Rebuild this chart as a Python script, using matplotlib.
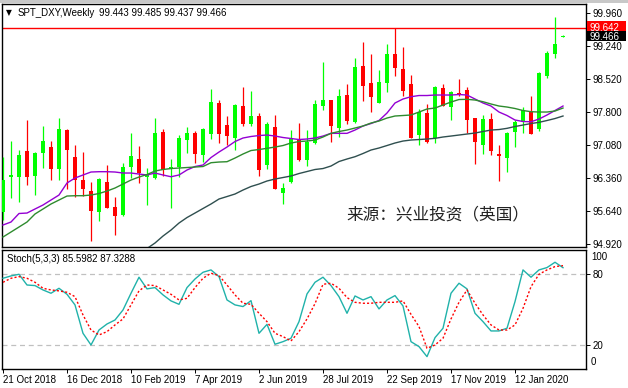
import matplotlib
matplotlib.use("Agg")
import matplotlib.pyplot as plt
import matplotlib.transforms as mtransforms
from matplotlib.patches import Rectangle
import numpy as np

# ---------------- data (weekly DXY candles, 21 Oct 2018 .. 23 Feb 2020) ----------------
tick_idx = [0, 8, 16, 24, 32, 40, 48, 56, 64]
tick_labels = ["21 Oct 2018", "16 Dec 2018", "10 Feb 2019", "7 Apr 2019", "2 Jun 2019",
               "28 Jul 2019", "22 Sep 2019", "17 Nov 2019", "12 Jan 2020"]
price_ticks = [94.920, 95.640, 96.360, 97.080, 97.800, 98.520, 99.240, 99.960]

opens = [95.632, 96.395, 96.395, 96.955, 96.417, 96.919, 97.050, 96.563, 97.414, 96.832,
         96.323, 96.083, 95.617, 96.286, 95.741, 95.559, 96.606, 96.781, 96.395, 96.374,
         97.377, 96.563, 96.606, 97.195, 97.355, 96.868, 97.334, 97.995, 97.523, 97.246,
         97.937, 97.552, 97.719, 96.650, 97.479, 96.046, 96.286, 97.210, 96.759, 97.123,
         97.945, 98.068, 97.465, 98.177, 97.581, 98.810, 98.432, 98.010, 98.446, 99.072,
         98.745, 98.417, 97.305, 97.792, 97.232, 98.323, 97.923, 98.221, 98.286, 97.668,
         97.086, 97.654, 96.883, 96.810, 97.377, 97.595, 97.799, 97.435, 98.592, 99.072,
         99.443]
highs = [96.832, 97.174, 96.977, 97.632, 96.941, 97.508, 97.181, 97.683, 97.435, 97.086,
         96.941, 96.286, 96.374, 96.650, 95.959, 96.686, 97.355, 97.065, 96.592, 97.668,
         97.435, 96.781, 97.304, 97.486, 97.392, 97.465, 98.308, 98.068, 97.719, 97.981,
         98.359, 98.265, 97.777, 97.581, 97.741, 96.250, 97.414, 97.574, 97.414, 98.068,
         98.905, 98.068, 98.308, 98.417, 98.992, 99.341, 99.072, 98.723, 99.290, 99.642,
         99.217, 98.614, 97.872, 97.981, 98.381, 98.417, 98.265, 98.526, 98.359, 97.683,
         97.741, 97.777, 97.086, 97.363, 97.632, 97.915, 98.163, 98.686, 99.137, 99.872,
         99.485]
lows = [95.450, 95.937, 95.835, 96.214, 95.995, 96.577, 96.323, 96.323, 96.126, 95.959,
        95.981, 94.992, 95.428, 95.719, 95.123, 95.544, 96.359, 96.250, 95.777, 96.344,
        96.417, 95.704, 96.395, 96.905, 96.686, 96.723, 97.217, 97.123, 97.086, 96.977,
        97.508, 97.508, 96.417, 96.555, 96.119, 95.799, 96.250, 96.737, 96.628, 97.101,
        97.850, 97.159, 97.268, 97.544, 97.559, 98.054, 97.814, 98.010, 98.250, 98.599,
        98.163, 97.232, 97.086, 97.123, 97.123, 97.937, 97.632, 98.163, 97.341, 96.672,
        96.890, 96.868, 96.301, 96.504, 97.050, 97.355, 97.326, 97.392, 98.555, 98.992,
        99.437]
closes = [96.323, 96.432, 96.868, 96.395, 96.919, 97.174, 96.563, 97.435, 96.977, 96.323,
          96.126, 95.646, 96.344, 95.719, 95.544, 96.606, 96.846, 96.468, 96.446, 97.355,
          96.541, 96.606, 97.232, 97.355, 96.890, 97.435, 98.017, 97.334, 97.290, 97.959,
          97.537, 97.719, 96.541, 97.544, 96.126, 96.141, 97.232, 96.759, 97.145, 97.981,
          98.068, 97.508, 98.155, 97.617, 98.788, 98.381, 98.141, 98.454, 99.072, 98.759,
          98.272, 97.232, 97.799, 97.145, 98.359, 97.937, 98.235, 98.177, 97.632, 97.159,
          97.654, 96.955, 96.854, 97.341, 97.581, 97.843, 97.326, 98.650, 99.086, 99.290,
          99.466]

ma_fast = [95.341, 95.406, 95.592, 95.602, 95.690, 95.777, 95.886, 95.995, 96.257, 96.366,
           96.432, 96.497, 96.504, 96.504, 96.497, 96.475, 96.475, 96.453, 96.432, 96.475,
           96.432, 96.394, 96.432, 96.541, 96.617, 96.650, 96.813, 96.933, 97.042, 97.162,
           97.239, 97.272, 97.293, 97.304, 97.282, 97.250, 97.228, 97.206, 97.217, 97.239,
           97.282, 97.341, 97.341, 97.341, 97.413, 97.501, 97.555, 97.621, 97.784, 98.003,
           98.090, 98.140, 98.166, 98.166, 98.177, 98.177, 98.177, 98.188, 98.177, 98.090,
           98.003, 97.937, 97.806, 97.730, 97.632, 97.599, 97.594, 97.653, 97.741, 97.839,
           97.937]
ma_mid = [95.079, 95.188, 95.297, 95.406, 95.581, 95.690, 95.799, 95.886, 95.973, 95.980,
          95.980, 95.995, 96.028, 96.082, 96.148, 96.235, 96.322, 96.388, 96.442, 96.519,
          96.552, 96.573, 96.584, 96.595, 96.606, 96.617, 96.700, 96.715, 96.722, 96.802,
          96.890, 96.966, 96.988, 97.014, 97.042, 97.075, 97.130, 97.162, 97.173, 97.195,
          97.261, 97.341, 97.381, 97.413, 97.457, 97.501, 97.566, 97.610, 97.675, 97.719,
          97.730, 97.741, 97.806, 97.872, 97.893, 97.959, 98.024, 98.079, 98.083, 98.068,
          98.031, 97.981, 97.937, 97.915, 97.883, 97.839, 97.813, 97.806, 97.806, 97.828,
          97.893]
ma_slow_start = 17
ma_slow = [94.642, 94.828, 94.948, 95.100, 95.231, 95.384, 95.504, 95.602, 95.701, 95.799,
           95.908, 95.962, 96.017, 96.104, 96.181, 96.235, 96.301, 96.344, 96.377, 96.410,
           96.464, 96.508, 96.552, 96.573, 96.628, 96.726, 96.781, 96.831, 96.901, 96.977,
           97.021, 97.075, 97.130, 97.173, 97.195, 97.206, 97.217, 97.232, 97.261, 97.282,
           97.304, 97.326, 97.348, 97.381, 97.413, 97.424, 97.450, 97.490, 97.522, 97.555,
           97.581, 97.621, 97.664, 97.719]

stoch_k = [76.6, 78.6, 80.0, 70.9, 70.4, 66.7, 63.9, 68.1, 63.0, 54.0,
           29.9, 20.0, 32.7, 37.8, 41.2, 49.7, 63.9, 77.5, 67.6, 68.7,
           62.5, 57.4, 54.5, 68.7, 76.0, 81.7, 83.7, 78.0, 58.2, 54.0,
           52.6, 57.6, 29.9, 37.5, 20.6, 22.8, 25.7, 39.8, 63.3, 73.2,
           77.5, 70.4, 61.0, 46.9, 61.6, 58.2, 61.0, 50.6, 58.2, 61.9,
           53.1, 22.8, 18.6, 10.1, 26.2, 34.2, 63.9, 72.4, 67.6, 46.9,
           39.8, 31.9, 31.9, 34.2, 56.8, 83.7, 77.5, 83.7, 85.7, 90.2,
           85.5982]
stoch_d = [73.2, 76.6, 78.0, 76.6, 73.2, 68.1, 66.7, 65.9, 64.7, 61.0,
           45.5, 32.7, 28.5, 31.3, 37.0, 42.1, 54.0, 65.9, 70.9, 70.4,
           66.7, 63.0, 58.2, 59.6, 68.7, 76.6, 80.9, 78.9, 70.9, 62.5,
           55.4, 54.5, 46.9, 39.8, 29.9, 27.1, 23.4, 31.3, 42.1, 55.1,
           71.5, 72.4, 68.1, 60.2, 56.2, 55.4, 55.4, 56.2, 56.2, 56.2,
           57.4, 46.0, 35.6, 17.2, 20.0, 25.7, 42.1, 56.2, 66.7, 55.4,
           45.5, 37.0, 32.7, 32.7, 37.0, 51.1, 69.5, 80.0, 83.7, 86.5,
           87.3288]

hline_level = 99.642
last_price = 99.466

# ---------------- figure ----------------
plt.rcParams["font.family"] = ["Liberation Sans", "DejaVu Sans"]
W, H = 628, 388
fig = plt.figure(figsize=(W / 100, H / 100), dpi=100, facecolor="white")
FS = 7


def fx(px):
    return px / W


def fy(py):
    return 1 - py / H


fig.patches.append(Rectangle((0, fy(3)), 1, 3 / H, transform=fig.transFigure,
                             facecolor="#c8c8c8", edgecolor="none", zorder=0))

ax = fig.add_axes([fx(2), fy(247), (586 - 2) / W, (247 - 4) / H])
axs = fig.add_axes([fx(2), fy(369), (586 - 2) / W, (369 - 250) / H])

n = len(opens)
x = np.arange(n)
o = np.array(opens); c = np.array(closes); hi = np.array(highs); lo = np.array(lows)
up = c >= o
col = np.where(up, "#00ff00", "#ff0000")

ax.vlines(x, lo, hi, colors=col, linewidth=0.9, zorder=3)
body_bottom = np.minimum(o, c)
body_h = np.maximum(np.abs(c - o), 0.022)
ax.bar(x, body_h, bottom=body_bottom, width=0.62, color=col, linewidth=0, zorder=4)

ax.plot(x, ma_fast, color="#9400d3", lw=1.0, zorder=5)
ax.plot(x, ma_mid, color="#2e8b2e", lw=1.0, zorder=5)
ax.plot(np.arange(ma_slow_start, ma_slow_start + len(ma_slow)), ma_slow,
        color="#2f4f4f", lw=1.0, zorder=5)

ax.axhline(hline_level, color="#ff0000", lw=1.0, zorder=2)

ax.set_xlim(-0.125, 72.875)
ax.set_ylim(94.861, 100.163)
ax.yaxis.tick_right()
ax.set_yticks(price_ticks)
ax.set_yticklabels([f"{v:.3f}" for v in price_ticks])
ax.tick_params(axis="y", direction="out", length=3, width=0.7, pad=2, labelsize=FS,
               colors="black")
ax.set_xticks([])
for s in ax.spines.values():
    s.set_linewidth(1.0)
    s.set_color("black")

# price label boxes on the right scale (red = horizontal line, black = last price)
for level, fc, top_px, bot_px in ((hline_level, "#ff0000", 21.5, 31.0),
                                  (last_price, "black", 31.0, 40.5)):
    fig.patches.append(Rectangle((fx(587), fy(bot_px)), 39 / W, (bot_px - top_px) / H,
                                 transform=fig.transFigure, facecolor=fc,
                                 edgecolor="none", zorder=5))
    fig.text(fx(589), fy((top_px + bot_px) / 2 + 0.3), f"{level:.3f}", fontsize=FS,
             color="white", va="center_baseline", ha="left", zorder=6)

fig.text(fx(6), fy(12.5), "\u25BC", fontsize=5.5, va="center", ha="left", color="black",
         family=["DejaVu Sans"])
fig.text(fx(18), fy(12.5), "SPT_DXY,Weekly", fontsize=FS, va="center", ha="left", color="black")
fig.text(fx(99), fy(12.5), f"{opens[-1]:.3f} {highs[-1]:.3f} {lows[-1]:.3f} {closes[-1]:.3f}",
         fontsize=FS, va="center", ha="left", color="black")

fig.text(fx(346), fy(215), "来源：兴业投资（英国）", fontsize=12.0, va="center", ha="left",
         color="#222222", family=["Noto Sans CJK SC", "DejaVu Sans"])

# ---------------- stochastic ----------------
axs.plot(x, stoch_k, color="#20b2aa", lw=1.0, zorder=4)
axs.plot(x, stoch_d, color="#ff0000", lw=1.0, linestyle=(0, (1.5, 1.5)), zorder=5)
for lvl in (20, 80):
    axs.axhline(lvl, color="#c0c0c0", lw=0.9, linestyle=(0, (4, 3)), zorder=1)
axs.set_xlim(-0.125, 72.875)
axs.set_ylim(-0.4, 100.6)
axs.yaxis.tick_right()
axs.set_yticks([80, 20])
axs.set_yticklabels(["80", "20"])
axs.tick_params(axis="y", direction="out", length=3, width=0.7, pad=2, labelsize=FS)
strans = mtransforms.blended_transform_factory(axs.transAxes, axs.transData)
axs.text(1.0 + 5 / 584, 95.0, "100", transform=strans, fontsize=FS, va="center", ha="left",
         clip_on=False)
axs.text(1.0 + 5 / 584, 5.3, "0", transform=strans, fontsize=FS, va="center", ha="left",
         clip_on=False)
axs.set_xticks(tick_idx)
axs.set_xticklabels(tick_labels, ha="left")
axs.tick_params(axis="x", direction="out", length=3, width=0.7, pad=1, labelsize=FS)
for s in axs.spines.values():
    s.set_linewidth(1.0)
    s.set_color("black")

fig.text(fx(7), fy(258.5), f"Stoch(5,3,3) {stoch_k[-1]:.4f} {stoch_d[-1]:.4f}", fontsize=FS,
         va="center", ha="left", color="black")

fig.savefig("out.png", dpi=100, facecolor="white")
